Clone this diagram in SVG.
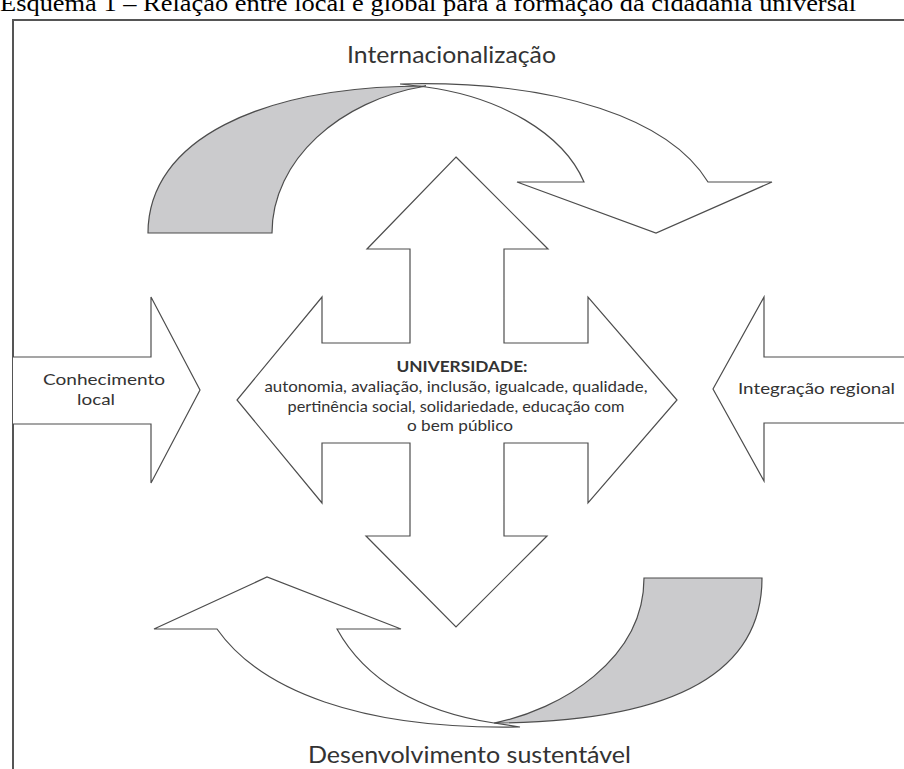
<svg xmlns="http://www.w3.org/2000/svg" width="904" height="769" viewBox="0 0 904 769">
<style>
.shape{fill:#fff;stroke:#4d4d4d;stroke-width:1.2;stroke-linejoin:miter}
.back{fill:#cbcbcd;stroke:#4d4d4d;stroke-width:1.2}
.frame{fill:none;stroke:#555;stroke-width:2}
.lbl{font-family:Lato,"Open Sans","Liberation Sans",sans-serif;fill:#333}
.big{font-size:23px}
.small{font-size:15px}
.title{font-family:"Liberation Serif","Times New Roman",serif;font-size:23px;fill:#000}
</style>
<rect width="904" height="769" fill="#fff"/>
<text class="title" x="0" y="11" textLength="856" lengthAdjust="spacingAndGlyphs">Esquema 1 – Relação entre local e global para a formação da cidadania universal</text>
<path class="frame" d="M13,769 L13,20 L904,20"/>
<g id="connectors">
  <g id="top-arrow">
    <path class="shape" d="M400,84 C560,80 670,120 708,182 L772,182 L656,233 L517,182 L584,182 C563,133 500,97 426,87 Z"/>
    <path class="back" d="M148,233 C148,140 260,86 426,86 C340,100 272,160 272,233 Z"/>
  </g>
  <g id="bottom-arrow">
    <path class="shape" d="M520,727 C360,730 260,690 217,629 L154,629 L267,577 L401,629 L337,629 C365,680 420,712 494,723 Z"/>
    <path class="back" d="M762,578 C762,680 660,722 494,723 C560,710 644,660 644,578 Z"/>
  </g>
</g>
<g id="universidade">
  <polygon class="shape" points="456,157 548,249 504,249 504,343 588,343 588,297 677,400 588,503 588,443 504,443 504,536 547,536 456,627 366,536 410,536 410,443 322,443 322,503 237,400 322,297 322,343 410,343 410,249 367,249"/>
  <text class="lbl small" x="462" y="372" text-anchor="middle" font-weight="bold" textLength="131" lengthAdjust="spacingAndGlyphs">UNIVERSIDADE:</text>
  <text class="lbl small" x="456" y="392" text-anchor="middle" textLength="383" lengthAdjust="spacingAndGlyphs">autonomia, avaliação, inclusão, igualcade, qualidade,</text>
  <text class="lbl small" x="456" y="412" text-anchor="middle" textLength="337" lengthAdjust="spacingAndGlyphs">pertinência social, solidariedade, educação com</text>
  <text class="lbl small" x="460" y="431" text-anchor="middle" textLength="106" lengthAdjust="spacingAndGlyphs">o bem público</text>
</g>
<g id="conhecimento-local">
  <polyline class="shape" points="13,357 151,357 151,297 200,390 151,483 151,424 13,424"/>
  <text class="lbl small" x="43" y="385" textLength="122" lengthAdjust="spacingAndGlyphs">Conhecimento</text>
  <text class="lbl small" x="77" y="405" textLength="38" lengthAdjust="spacingAndGlyphs">local</text>
</g>
<g id="integracao-regional">
  <polyline class="shape" points="905,357 764,357 764,297 713,389 764,481 764,423 905,423"/>
  <text class="lbl small" x="738" y="394" textLength="157" lengthAdjust="spacingAndGlyphs">Integração regional</text>
</g>
<g id="internacionalizacao">
  <text class="lbl big" x="347" y="63" textLength="209" lengthAdjust="spacingAndGlyphs">Internacionalização</text>
</g>
<g id="desenvolvimento">
  <text class="lbl big" x="308" y="763" textLength="323" lengthAdjust="spacingAndGlyphs">Desenvolvimento sustentável</text>
</g>
</svg>
